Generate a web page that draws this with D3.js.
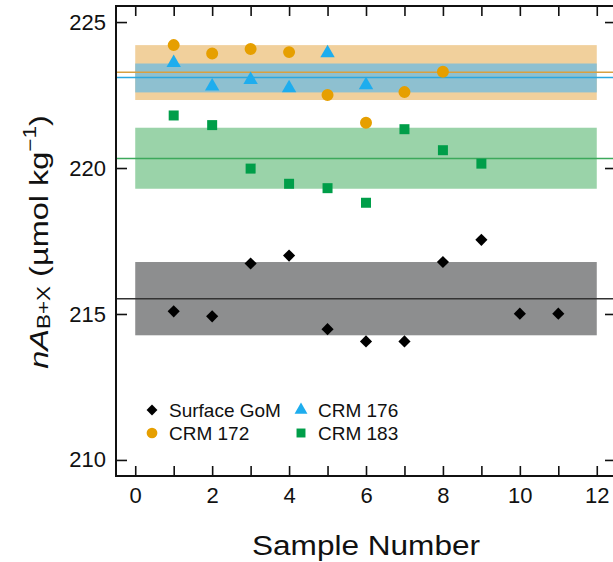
<!DOCTYPE html>
<html>
<head>
<meta charset="utf-8">
<script src="https://cdn.jsdelivr.net/npm/d3@7"></script>
<style>
  body { margin: 0; background: #fff; }
  svg { display: block; font-family: "Liberation Sans", Arial, sans-serif; }
</style>
</head>
<body>
<svg id="chart" width="613" height="562"></svg>
<script>
// values
var gomSamples = [1, 2, 3, 4, 5, 6, 7, 8, 9, 10, 11];
var gomValues = [215.09, 214.92, 216.73, 217.0, 214.48, 214.06, 214.06, 216.78, 217.54, 215.01, 215.01];

var crm172Samples = [1, 2, 3, 4, 5, 6, 7, 8];
var crm172Values = [224.21, 223.92, 224.08, 223.97, 222.5, 221.55, 222.6, 223.3];

var crm176Samples = [1, 2, 3, 4, 5, 6];
var crm176Values = [223.6, 222.8, 223.02, 222.74, 223.94, 222.84];

var crm183Samples = [1, 2, 3, 4, 5, 6, 7, 8, 9];
var crm183Values = [221.8, 221.47, 219.98, 219.46, 219.31, 218.81, 221.33, 220.61, 220.15];

// mean line and +/- band for each group
var seriesNames = ["Surface GoM", "CRM 172", "CRM 176", "CRM 183"];
var seriesMeans = [215.52, 223.28, 223.10, 220.33];
var seriesBandLow = [214.27, 222.33, 222.59, 219.29];
var seriesBandHigh = [216.78, 224.21, 223.58, 221.38];
var bandStart = 0, bandEnd = 12;

var xTicks = [0, 1, 2, 3, 4, 5, 6, 7, 8, 9, 10, 11, 12];
var yTicks = [210, 215, 220, 225];

var markerColors = ["#000000", "#E69F00", "#1EADEE", "#009E49"];
var bandColors = ["#8D8E8F", "#F1D09C", "#8EC0D0", "#9AD3A9"];
var lineColors = ["#333333", "#D9A040", "#2BA8E0", "#3DA95C"];

var svg = d3.select("#chart");

// (window.top is read-only, so no plain "top" here)
var plotL = 116, plotR = 616, plotT = 6, plotB = 476;

var x = d3.scaleLinear().domain([-0.5, 12.5]).range([plotL, plotR]);
var y = d3.scaleLinear().domain([209.45, 225.55]).range([plotB, plotT]);

var groups = [
    { name: seriesNames[0], xs: gomSamples, ys: gomValues, shape: "diamond" },
    { name: seriesNames[1], xs: crm172Samples, ys: crm172Values, shape: "circle" },
    { name: seriesNames[2], xs: crm176Samples, ys: crm176Values, shape: "triangle" },
    { name: seriesNames[3], xs: crm183Samples, ys: crm183Values, shape: "square" }
];
groups.forEach(function(g, i) {
    g.color = markerColors[i];
});

function symbolPath(shape, big) {
    var k = big ? 1 : 0.8;
    if (shape === "circle") return d3.symbol(d3.symbolCircle, 113 * k)();
    if (shape === "square") return d3.symbol(d3.symbolSquare, 100 * k)();
    if (shape === "triangle") return d3.symbol(d3.symbolTriangle, 90 * k)();
    return d3.symbol(d3.symbolSquare, 74 * k)(); // rotated -> diamond
}

var plot = svg.append("g");

// bands: gray, orange, blue (over orange), green
var bandOrder = [0, 1, 2, 3];
plot.selectAll("rect.band")
    .data(bandOrder)
    .enter().append("rect")
    .attr("class", "band")
    .attr("x", x(bandStart))
    .attr("width", x(bandEnd) - x(bandStart))
    .attr("y", function(i) { return y(seriesBandHigh[i]); })
    .attr("height", function(i) { return y(seriesBandLow[i]) - y(seriesBandHigh[i]); })
    .attr("fill", function(i) { return bandColors[i]; });

// mean lines across the whole plot
plot.selectAll("line.mean")
    .data(bandOrder)
    .enter().append("line")
    .attr("class", "mean")
    .attr("x1", plotL)
    .attr("x2", plotR)
    .attr("y1", function(i) { return y(seriesMeans[i]); })
    .attr("y2", function(i) { return y(seriesMeans[i]); })
    .attr("stroke", function(i) { return lineColors[i]; })
    .attr("stroke-width", 1.5);

// points
groups.forEach(function(g) {
    var pts = g.xs.map(function(v, k) { return [v, g.ys[k]]; });
    plot.append("g").selectAll("path")
        .data(pts)
        .enter().append("path")
        .attr("d", symbolPath(g.shape, true))
        .attr("transform", function(d) {
            var t = "translate(" + x(d[0]) + "," + y(d[1]) + ")";
            return g.shape === "diamond" ? t + " rotate(45)" : t;
        })
        .attr("fill", g.color);
});

// axes, ticks point inward
var axisFont = 22;

var xAxisB = d3.axisBottom(x).tickValues(xTicks).tickSizeInner(-10).tickSizeOuter(0)
    .tickPadding(11)
    .tickFormat(function(d) { return d % 2 === 0 ? d : ""; });
var xAxisT = d3.axisTop(x).tickValues(xTicks).tickSizeInner(-10).tickSizeOuter(0).tickFormat("");
var yAxisL = d3.axisLeft(y).tickValues(yTicks).tickSizeInner(-11).tickSizeOuter(0).tickPadding(10);
var yAxisR = d3.axisRight(y).tickValues(yTicks).tickSizeInner(-11).tickSizeOuter(0).tickFormat("");

function styleAxis(sel) {
    sel.select(".domain").remove();
    sel.selectAll("line").attr("stroke", "#111").attr("stroke-width", 1.6);
    sel.selectAll("text").attr("fill", "#111").style("font-size", axisFont + "px")
        .style("font-family", "'Liberation Sans', Arial, sans-serif");
}

svg.append("g").attr("transform", "translate(0," + plotB + ")").call(xAxisB).call(styleAxis);
svg.append("g").attr("transform", "translate(0," + plotT + ")").call(xAxisT).call(styleAxis);
svg.append("g").attr("transform", "translate(" + plotL + ",0)").call(yAxisL).call(styleAxis);
svg.append("g").attr("transform", "translate(" + plotR + ",0)").call(yAxisR).call(styleAxis);

// frame
svg.append("rect")
    .attr("x", plotL).attr("y", plotT)
    .attr("width", plotR - plotL).attr("height", plotB - plotT)
    .attr("fill", "none").attr("stroke", "#111").attr("stroke-width", 2);

// axis titles (source figure's text is stretched a bit, so squeeze/stretch to fit)
svg.append("text")
    .attr("x", 252)
    .attr("y", 555)
    .attr("textLength", 228)
    .attr("lengthAdjust", "spacingAndGlyphs")
    .style("font-size", "27px")
    .attr("fill", "#111")
    .text("Sample Number");

var yl = svg.append("text")
    .attr("transform", "translate(48,242) scale(1,1.25) rotate(-90)")
    .attr("text-anchor", "middle")
    .style("font-size", "26px")
    .attr("fill", "#111");
yl.append("tspan").style("font-style", "italic").text("nA");
yl.append("tspan").attr("dy", 2).style("font-size", "18px").text("B+X");
yl.append("tspan").attr("dy", -2).text(" (\u00b5mol kg");
yl.append("tspan").attr("dy", -12).style("font-size", "18px").text("\u22121");
yl.append("tspan").attr("dy", 12).text(")");

// legend
var legendRows = [
    { g: 0, x: 152, y: 410 },
    { g: 2, x: 301, y: 410 },
    { g: 1, x: 152, y: 433 },
    { g: 3, x: 301, y: 433 }
];
var legend = svg.append("g");
legendRows.forEach(function(r) {
    var g = groups[r.g];
    legend.append("path")
        .attr("d", symbolPath(g.shape, false))
        .attr("transform", "translate(" + r.x + "," + r.y + ")" + (g.shape === "diamond" ? " rotate(45)" : ""))
        .attr("fill", g.color);
    legend.append("text")
        .attr("x", r.x + 17)
        .attr("y", r.y + 7)
        .style("font-size", "19px")
        .attr("fill", "#111")
        .text(g.name);
});
</script>
</body>
</html>
